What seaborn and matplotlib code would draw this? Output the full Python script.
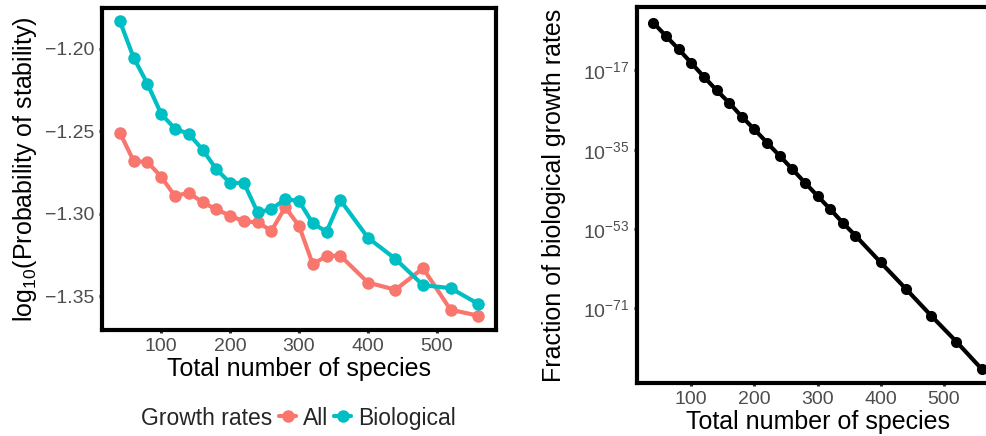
import numpy as np
import pandas as pd
import matplotlib
matplotlib.use("Agg")
import matplotlib.pyplot as plt
from matplotlib.lines import Line2D
from matplotlib.ticker import FixedLocator, NullLocator
import seaborn as sns

# ---- data ----
species = [40, 60, 80, 100, 120, 140, 160, 180, 200, 220, 240, 260, 280,
           300, 320, 340, 360, 400, 440, 480, 520, 560]
stab_all = [-1.2508, -1.2681, -1.2686, -1.2776, -1.2893, -1.2872, -1.2931,
            -1.2973, -1.3012, -1.3046, -1.3052, -1.3103, -1.2961, -1.3073,
            -1.3306, -1.3256, -1.3254, -1.3417, -1.3461, -1.3330, -1.3582,
            -1.3618]
stab_bio = [-1.1833, -1.2054, -1.2212, -1.2395, -1.2484, -1.2516, -1.2611,
            -1.2730, -1.2813, -1.2813, -1.2992, -1.2972, -1.2911, -1.2923,
            -1.3058, -1.3109, -1.2917, -1.3145, -1.3274, -1.3433, -1.3451,
            -1.3546]
frac_log10 = [-6.2, -9.2, -12.2, -15.3, -18.45, -21.5, -24.35, -27.5, -30.4,
              -33.4, -36.4, -39.4, -42.5, -45.5, -48.5, -51.6, -54.5, -60.6,
              -66.6, -72.7, -78.6, -84.8]
groups = ["All", "Biological"]
palette = {"All": "#F8766D", "Biological": "#00BFC4"}
x_ticks = [100, 200, 300, 400, 500]
left_yticks = [-1.35, -1.30, -1.25, -1.20]
right_ytick_exp = [-71, -53, -35, -17]

df_left = pd.DataFrame({
    "species": species * 2,
    "value": stab_all + stab_bio,
    "group": ["All"] * len(species) + ["Biological"] * len(species),
})
df_right = pd.DataFrame({"species": species,
                         "frac": [10.0 ** e for e in frac_log10]})

# ---- style ----
sns.set_theme(style="white")
plt.rcParams["font.family"] = ["Liberation Sans", "DejaVu Sans"]
plt.rcParams["mathtext.fontset"] = "custom"
plt.rcParams["mathtext.rm"] = "Liberation Sans"
plt.rcParams["mathtext.it"] = "Liberation Sans:italic"
plt.rcParams["mathtext.default"] = "regular"

fig = plt.figure(figsize=(9.87, 4.36), dpi=100)
W, H = 987, 436
axL = fig.add_axes([102 / W, 1 - 330 / H, (496 - 102) / W, (330 - 8) / H])
axR = fig.add_axes([637 / W, 1 - 383 / H, 361 / W, (383 - 7) / H])

lw = 3.0
sns.lineplot(data=df_left, x="species", y="value", hue="group",
             hue_order=groups, palette=palette, marker="o", markersize=9,
             markeredgewidth=0, linewidth=lw, legend=False, ax=axL)
sns.lineplot(data=df_right, x="species", y="frac", color="black",
             marker="o", markersize=8, markeredgewidth=0, linewidth=lw,
             legend=False, ax=axR)

for ax in (axL, axR):
    ax.set_xlim(14, 586)
    ax.set_xticks(x_ticks)
    ax.set_xticklabels([str(t) for t in x_ticks])
    for s in ax.spines.values():
        s.set_linewidth(3.0)
        s.set_color("black")
    ax.tick_params(axis="both", which="major", length=2.5, width=2.2,
                   color="#333333", labelcolor="#4D4D4D", labelsize=14,
                   pad=3, left=True, bottom=True)
    ax.tick_params(axis="both", which="minor", length=0)
    ax.set_xlabel("Total number of species", fontsize=18, color="black",
                  labelpad=2)
    ax.grid(False)

axL.set_ylim(-1.3705, -1.1752)
axL.set_yticks(left_yticks)
axL.set_yticklabels(["\u22121.35", "\u22121.30", "\u22121.25", "\u22121.20"])
axL.set_ylabel("log$_{10}$(Probability of stability)", fontsize=18,
               color="black", labelpad=4)

axR.set_yscale("log")
axR.set_ylim(10.0 ** -88.0, 10.0 ** -2.6)
axR.yaxis.set_major_locator(FixedLocator([10.0 ** e for e in right_ytick_exp]))
axR.yaxis.set_minor_locator(NullLocator())
axR.set_yticklabels(["$10^{%d}$" % e for e in right_ytick_exp])
axR.set_ylabel("Fraction of biological growth rates", fontsize=18,
               color="black", labelpad=12)
axR.spines["right"].set_visible(False)

# ---- legend ----
fig.text(272 / W, 1 - 418 / H, "Growth rates", fontsize=16.5, ha="right",
         va="center")
handles = [Line2D([0], [0], color=palette[g], linewidth=lw, marker="o",
                  markersize=9, markeredgewidth=0) for g in groups]
fig.legend(handles, groups, loc="center left",
           bbox_to_anchor=(279 / W, 1 - 418 / H), ncol=2, frameon=False,
           fontsize=16.5, handlelength=0.75, handletextpad=0.3,
           columnspacing=0.25, borderaxespad=0, borderpad=0)

fig.savefig("out.png", dpi=100)
